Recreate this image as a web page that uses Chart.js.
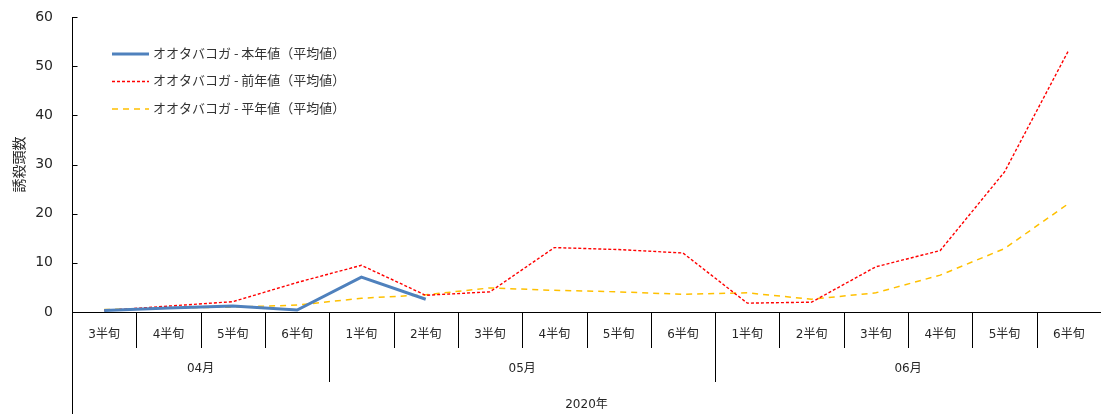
<!DOCTYPE html>
<html>
<head>
<meta charset="utf-8">
<script src="https://cdn.jsdelivr.net/npm/chart.js@4.4.1/dist/chart.umd.min.js"></script>
<style>
  html, body { margin: 0; padding: 0; background: #fff; }
  #wrap { width: 1101px; height: 414px; position: relative; }
</style>
</head>
<body>
<div id="wrap"><canvas id="c" width="1101" height="414"></canvas></div>
<script>
// Half-month periods (半旬) and their grouping by month / year
const halfMonths = ['3半旬','4半旬','5半旬','6半旬','1半旬','2半旬','3半旬','4半旬','5半旬','6半旬','1半旬','2半旬','3半旬','4半旬','5半旬','6半旬'];
const monthLabels = ['04月','05月','06月'];
const monthSpans = [4, 6, 6];
const yearLabel = '2020年';

// Trap counts (誘殺頭数)
const thisYear   = [0.3, 0.8, 1.2, 0.4, 7.1, 2.6, null, null, null, null, null, null, null, null, null, null];
const lastYear   = [0.3, 1.2, 2.1, 6.0, 9.5, 3.4, 4.1, 13.1, 12.7, 12.0, 1.8, 2.0, 9.2, 12.5, 28.5, 53.3];
const normalYear = [0.5, 0.8, 1.0, 1.4, 2.8, 3.5, 4.9, 4.4, 4.1, 3.6, 3.9, 2.6, 3.9, 7.5, 12.9, 22.1];

const yTicks = [0, 10, 20, 30, 40, 50, 60];

const seriesLabels = [
  'オオタバコガ - 本年値（平均値）',
  'オオタバコガ - 前年値（平均値）',
  'オオタバコガ - 平年値（平均値）'
];

const TEXT = '#262626';
const LATIN = '"DejaVu Sans", Verdana, sans-serif';
const CJK = '"DejaVu Sans", "Noto Sans CJK JP", sans-serif';

// Draws the grouped category axis, inward y tick marks and the legend block
const decorations = {
  id: 'decorations',
  afterDraw(chart) {
    const { ctx, chartArea } = chart;
    const xs = chart.scales.x;
    const ys = chart.scales.y;
    const n = halfMonths.length;
    const px = i => xs.getPixelForValue(i);
    const boundary = i => (i <= 0 ? chartArea.left : (i >= n ? chartArea.right : (px(i - 1) + px(i)) / 2));
    const base = chartArea.bottom;

    ctx.save();
    ctx.strokeStyle = '#000';
    ctx.lineWidth = 1;

    // y axis continues down through the category rows
    const ax = Math.round(chartArea.left) + 0.5;
    ctx.beginPath();
    ctx.moveTo(ax, base);
    ctx.lineTo(ax, chart.height);
    ctx.stroke();

    // inward tick marks on the value axis
    yTicks.forEach(v => {
      const y = Math.round(ys.getPixelForValue(v)) + 0.5;
      ctx.beginPath();
      ctx.moveTo(ax, y);
      ctx.lineTo(ax + 5, y);
      ctx.stroke();
    });

    // separators between half-month cells
    for (let i = 1; i < n; i++) {
      const x = Math.round(boundary(i)) + 0.5;
      ctx.beginPath();
      ctx.moveTo(x, base);
      ctx.lineTo(x, base + 36);
      ctx.stroke();
    }

    // month separators and labels
    ctx.fillStyle = TEXT;
    ctx.font = '12px ' + CJK;
    ctx.textAlign = 'center';
    ctx.textBaseline = 'middle';
    let start = 0;
    monthSpans.forEach((span, k) => {
      const end = start + span;
      if (end < n) {
        const x = Math.round(boundary(end)) + 0.5;
        ctx.beginPath();
        ctx.moveTo(x, base);
        ctx.lineTo(x, base + 70);
        ctx.stroke();
      }
      ctx.fillText(monthLabels[k], (boundary(start) + boundary(end)) / 2, base + 57);
      start = end;
    });

    // year label
    ctx.fillText(yearLabel, (chartArea.left + chartArea.right) / 2, base + 93);

    // legend
    const lx = 112, tx = 153, rows = [53, 80.5, 108];
    chart.data.datasets.forEach((ds, k) => {
      const y = rows[k];
      ctx.save();
      ctx.strokeStyle = ds.borderColor;
      ctx.lineWidth = ds.borderWidth;
      ctx.setLineDash(ds.borderDash || []);
      ctx.lineCap = 'butt';
      ctx.beginPath();
      ctx.moveTo(lx, y + 1);
      ctx.lineTo(lx + 37, y + 1);
      ctx.stroke();
      ctx.restore();
      ctx.fillStyle = '#333';
      ctx.font = '13px "Noto Sans CJK JP", sans-serif';
      ctx.textAlign = 'left';
      ctx.textBaseline = 'middle';
      ctx.fillText(ds.label, tx, y);
    });
    ctx.restore();
  }
};

new Chart(document.getElementById('c'), {
  type: 'line',
  data: {
    labels: halfMonths,
    datasets: [
      {
        label: seriesLabels[0],
        data: thisYear,
        borderColor: '#4F81BD',
        borderWidth: 3,
        pointRadius: 0,
        tension: 0,
        spanGaps: false
      },
      {
        label: seriesLabels[1],
        data: lastYear,
        borderColor: '#FF0000',
        borderWidth: 1.4,
        borderDash: [3, 2],
        pointRadius: 0,
        tension: 0
      },
      {
        label: seriesLabels[2],
        data: normalYear,
        borderColor: '#FFC000',
        borderWidth: 1.5,
        borderDash: [6, 5],
        pointRadius: 0,
        tension: 0
      }
    ]
  },
  options: {
    responsive: false,
    animation: false,
    devicePixelRatio: 1,
    layout: { padding: { top: 17, right: 0, left: 0, bottom: 0 } },
    plugins: {
      legend: { display: false },
      tooltip: { enabled: false }
    },
    scales: {
      x: {
        type: 'category',
        offset: true,
        grid: { display: false, drawTicks: false },
        border: { display: true, color: '#000', width: 1 },
        ticks: {
          color: TEXT,
          font: { size: 12, family: CJK },
          padding: 16,
          maxRotation: 0,
          minRotation: 0,
          autoSkip: false
        },
        afterFit(scale) { scale.height = 102; }
      },
      y: {
        min: 0,
        max: 60,
        grid: {
          display: true,
          drawOnChartArea: false,
          drawTicks: true,
          tickLength: 19,
          tickColor: 'rgba(0,0,0,0)'
        },
        border: { display: true, color: '#000', width: 1 },
        afterBuildTicks(scale) { scale.ticks = yTicks.map(v => ({ value: v })); },
        ticks: {
          color: TEXT,
          font: { size: 14, family: LATIN },
          padding: 0
        },
        title: {
          display: true,
          text: '誘殺頭数',
          color: TEXT,
          font: { size: 14, family: '"Noto Sans CJK JP", sans-serif' },
          padding: { top: 10, bottom: 0 }
        },
        afterFit(scale) { scale.width = 72; }
      }
    }
  },
  plugins: [decorations]
});
</script>
</body>
</html>
